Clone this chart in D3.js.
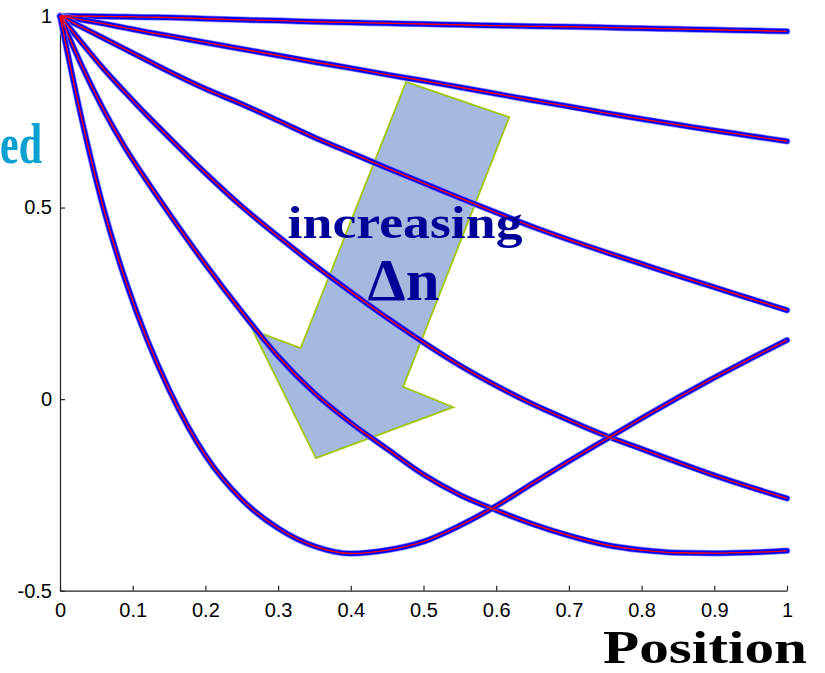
<!DOCTYPE html>
<html>
<head>
<meta charset="utf-8">
<script src="https://cdn.jsdelivr.net/npm/d3@7"></script>
<style>
  html, body { margin: 0; padding: 0; background: #ffffff; }
  svg { display: block; }
</style>
</head>
<body>
<svg id="chart" width="825" height="673"></svg>
<script>
// ---- data ----
const positions = [0, 0.03, 0.06, 0.09, 0.12, 0.15, 0.2, 0.25, 0.3, 0.35, 0.4, 0.45, 0.5, 0.55, 0.6, 0.65, 0.7, 0.75, 0.8, 0.85, 0.9, 0.95, 1];
const curveA = [1, 0.9995, 0.999, 0.998, 0.997, 0.996, 0.993, 0.990, 0.988, 0.985, 0.983, 0.981, 0.979, 0.977, 0.975, 0.973, 0.972, 0.970, 0.968, 0.966, 0.964, 0.962, 0.960];
const curveB = [1, 0.99, 0.98, 0.969, 0.958, 0.948, 0.931, 0.914, 0.897, 0.880, 0.864, 0.847, 0.831, 0.814, 0.797, 0.780, 0.764, 0.747, 0.731, 0.716, 0.701, 0.687, 0.673];
const curveC = [1, 0.971, 0.942, 0.913, 0.884, 0.855, 0.81, 0.77, 0.727, 0.683, 0.643, 0.603, 0.564, 0.525, 0.487, 0.45, 0.416, 0.384, 0.353, 0.322, 0.292, 0.262, 0.232];
const curveD = [1, 0.93, 0.862, 0.8, 0.74, 0.683, 0.59, 0.503, 0.425, 0.35, 0.28, 0.212, 0.148, 0.088, 0.035, -0.013, -0.055, -0.095, -0.13, -0.165, -0.199, -0.23, -0.259];
const curveE = [1, 0.87, 0.755, 0.655, 0.568, 0.485, 0.352, 0.228, 0.112, 0.016, -0.062, -0.13, -0.197, -0.25, -0.29, -0.326, -0.356, -0.38, -0.394, -0.401, -0.402, -0.400, -0.396];
const curveF = [1, 0.73, 0.497, 0.31, 0.155, 0.025, -0.147, -0.262, -0.337, -0.384, -0.403, -0.394, -0.372, -0.33, -0.279, -0.22, -0.162, -0.106, -0.05, 0.004, 0.056, 0.106, 0.154];
const seriesList = [curveA, curveB, curveC, curveD, curveE, curveF];

const xTicks = [0, 0.1, 0.2, 0.3, 0.4, 0.5, 0.6, 0.7, 0.8, 0.9, 1];
const xTickLabels = ["0", "0.1", "0.2", "0.3", "0.4", "0.5", "0.6", "0.7", "0.8", "0.9", "1"];
const yTicks = [-0.5, 0, 0.5, 1];
const yTickLabels = ["-0.5", "0", "0.5", "1"];

// annotation arrow (in data coordinates)
const arrowX = [0.476, 0.618, 0.472, 0.541, 0.352, 0.265, 0.331];
const arrowY = [0.828, 0.736, 0.032, -0.021, -0.154, 0.180, 0.133];

const xLabel = "Position";
const yLabelTail = "ed";
const annoLine1 = "increasing";
const annoLine2 = "\u0394n";

// ---- layout ----
const svg = d3.select("#chart");
const x = d3.scaleLinear().domain([0, 1]).range([60, 787]);
const y = d3.scaleLinear().domain([-0.5, 1]).range([590.7, 16]);

svg.append("rect").attr("width", 825).attr("height", 673).attr("fill", "#ffffff");

// arrow (behind curves)
const arrowPts = arrowX.map((d, i) => [x(d), y(arrowY[i])]);
svg.append("polygon")
  .attr("points", arrowPts.map(p => p.join(",")).join(" "))
  .attr("fill", "#a4b8e0")
  .attr("stroke", "#a0c810")
  .attr("stroke-width", 1.8)
  .attr("stroke-linejoin", "miter");

// axes
const fontTick = "'Liberation Sans', Arial, sans-serif";
const xAxis = d3.axisBottom(x).tickValues(xTicks)
  .tickFormat((d, i) => xTickLabels[i]).tickSizeInner(-5).tickSizeOuter(0).tickPadding(12);
const yAxis = d3.axisLeft(y).tickValues(yTicks)
  .tickFormat((d, i) => yTickLabels[i]).tickSizeInner(-5).tickSizeOuter(0).tickPadding(8);

const gx = svg.append("g").attr("transform", "translate(0,590.7)").call(xAxis);
const gy = svg.append("g").attr("transform", "translate(60,0)").call(yAxis);
[gx, gy].forEach(g => {
  g.selectAll("path.domain").attr("stroke", "#222").attr("stroke-width", 1.2);
  g.selectAll(".tick line").attr("stroke", "#222").attr("stroke-width", 1.2);
  g.selectAll(".tick text").attr("fill", "#000").style("font-family", fontTick).style("font-size", "20px");
});

// curves
const line = d3.line()
  .x((d, i) => x(positions[i]))
  .y(d => y(d))
  .curve(d3.curveMonotoneX);

const gc = svg.append("g");
seriesList.forEach(s => {
  gc.append("path").attr("d", line(s)).attr("fill", "none")
    .attr("stroke", "#8c8cff").attr("stroke-width", 6.5).attr("stroke-linecap", "round");
  gc.append("path").attr("d", line(s)).attr("fill", "none")
    .attr("stroke", "#0000ff").attr("stroke-width", 5).attr("stroke-linecap", "round");
});
seriesList.forEach(s => {
  gc.append("path").attr("d", line(s)).attr("fill", "none")
    .attr("stroke", "#ff0000").attr("stroke-width", 1.4);
});

// annotation text
const serif = "'Liberation Serif', 'Times New Roman', serif";
svg.append("text")
  .attr("x", x(0.313)).attr("y", y(0.42))
  .attr("textLength", 235).attr("lengthAdjust", "spacingAndGlyphs")
  .style("font-family", serif).style("font-weight", "bold").style("font-size", "47px")
  .attr("fill", "#000099").text(annoLine1);
svg.append("text")
  .attr("x", x(0.423)).attr("y", y(0.259))
  .attr("textLength", 72).attr("lengthAdjust", "spacingAndGlyphs")
  .style("font-family", serif).style("font-weight", "bold").style("font-size", "60px")
  .attr("fill", "#000099").text(annoLine2);

// axis labels
svg.append("text")
  .attr("x", 603).attr("y", 662.5)
  .attr("textLength", 204).attr("lengthAdjust", "spacingAndGlyphs")
  .style("font-family", serif).style("font-weight", "bold").style("font-size", "47px")
  .attr("fill", "#000000").text(xLabel);
svg.append("text")
  .attr("x", 0).attr("y", 162.7)
  .attr("textLength", 42).attr("lengthAdjust", "spacingAndGlyphs")
  .style("font-family", serif).style("font-weight", "bold").style("font-size", "56px")
  .attr("fill", "#0aa0d0").text(yLabelTail);
</script>
</body>
</html>
